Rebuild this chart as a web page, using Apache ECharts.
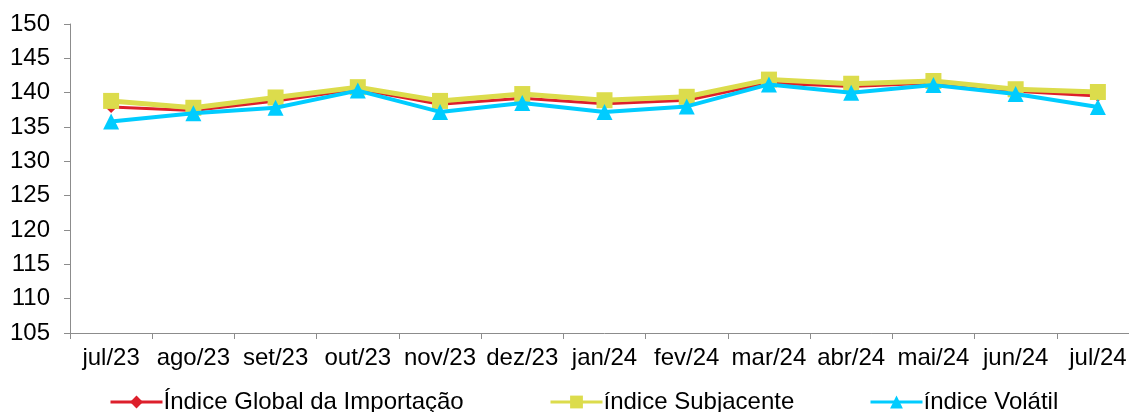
<!DOCTYPE html>
<html>
<head>
<meta charset="utf-8">
<script src="https://cdn.jsdelivr.net/npm/echarts@6/dist/echarts.min.js"></script>
<style>html,body{margin:0;padding:0;background:#fff;overflow:hidden;width:1129px;height:412px}#c{width:1139px;height:412px}</style>
</head>
<body>
<div id="c"></div>
<script>
const categories = ['jul/23','ago/23','set/23','out/23','nov/23','dez/23','jan/24','fev/24','mar/24','abr/24','mai/24','jun/24','jul/24'];
const globalIdx = [137.9, 137.4, 138.8, 140.5, 138.3, 139.2, 138.4, 138.9, 141.4, 140.9, 141.4, 140.2, 139.5];
const subjacente = [138.8, 137.8, 139.3, 140.8, 138.8, 139.8, 138.9, 139.4, 141.9, 141.3, 141.7, 140.5, 140.1];
const volatil = [135.8, 137.0, 137.8, 140.3, 137.2, 138.5, 137.2, 138.0, 141.2, 140.0, 141.1, 139.8, 137.9];
const seriesNames = ['Índice Global da Importação', 'índice Subjacente', 'índice Volátil'];

const FONT = 'Liberation Sans, Arial, sans-serif';
const chart = echarts.init(document.getElementById('c'), null, {renderer: 'canvas'});
const legendBase = {
  top: 385, itemWidth: 52, itemHeight: 16, itemGap: 4,
  lineStyle: {width: 3},
  textStyle: {fontFamily: FONT, fontSize: 24, color: '#000', padding: [0,0,0,-4]}
};
chart.setOption({
  animation: false,
  grid: {left: 70, top: 24, bottom: 79, right: 0, containLabel: false},
  xAxis: {
    type: 'category', data: categories, boundaryGap: true,
    axisLine: {lineStyle: {color: '#8c8c8c', width: 1}},
    axisTick: {show: true, length: 6, lineStyle: {color: '#8c8c8c'}},
    axisLabel: {fontFamily: FONT, fontSize: 24, color: '#000', margin: 13, interval: 0}
  },
  yAxis: {
    type: 'value', min: 105, max: 150, interval: 5,
    axisLine: {show: true, lineStyle: {color: '#8c8c8c', width: 1}},
    axisTick: {show: true, length: 6, lineStyle: {color: '#8c8c8c'}},
    splitLine: {show: false},
    axisLabel: {fontFamily: FONT, fontSize: 24, color: '#000', margin: 20}
  },
  legend: [
    Object.assign({}, legendBase, {left: 104, data: [seriesNames[0]]}),
    Object.assign({}, legendBase, {left: 544, data: [seriesNames[1]]}),
    Object.assign({}, legendBase, {left: 864, data: [seriesNames[2]]})
  ],
  series: [
    {name: seriesNames[0], type: 'line', data: globalIdx, z: 2,
     symbol: 'diamond', symbolSize: 12, showAllSymbol: true,
     lineStyle: {color: '#DD1F2B', width: 3}, itemStyle: {color: '#DD1F2B'}},
    {name: seriesNames[1], type: 'line', data: subjacente, z: 3,
     symbol: 'rect', symbolSize: 16, showAllSymbol: true,
     lineStyle: {color: '#DCDC4C', width: 5}, itemStyle: {color: '#DCDC4C'}},
    {name: seriesNames[2], type: 'line', data: volatil, z: 4,
     symbol: 'triangle', symbolSize: 16, showAllSymbol: true,
     lineStyle: {color: '#00CCFF', width: 4}, itemStyle: {color: '#00CCFF'}}
  ]
});
</script>
</body>
</html>
